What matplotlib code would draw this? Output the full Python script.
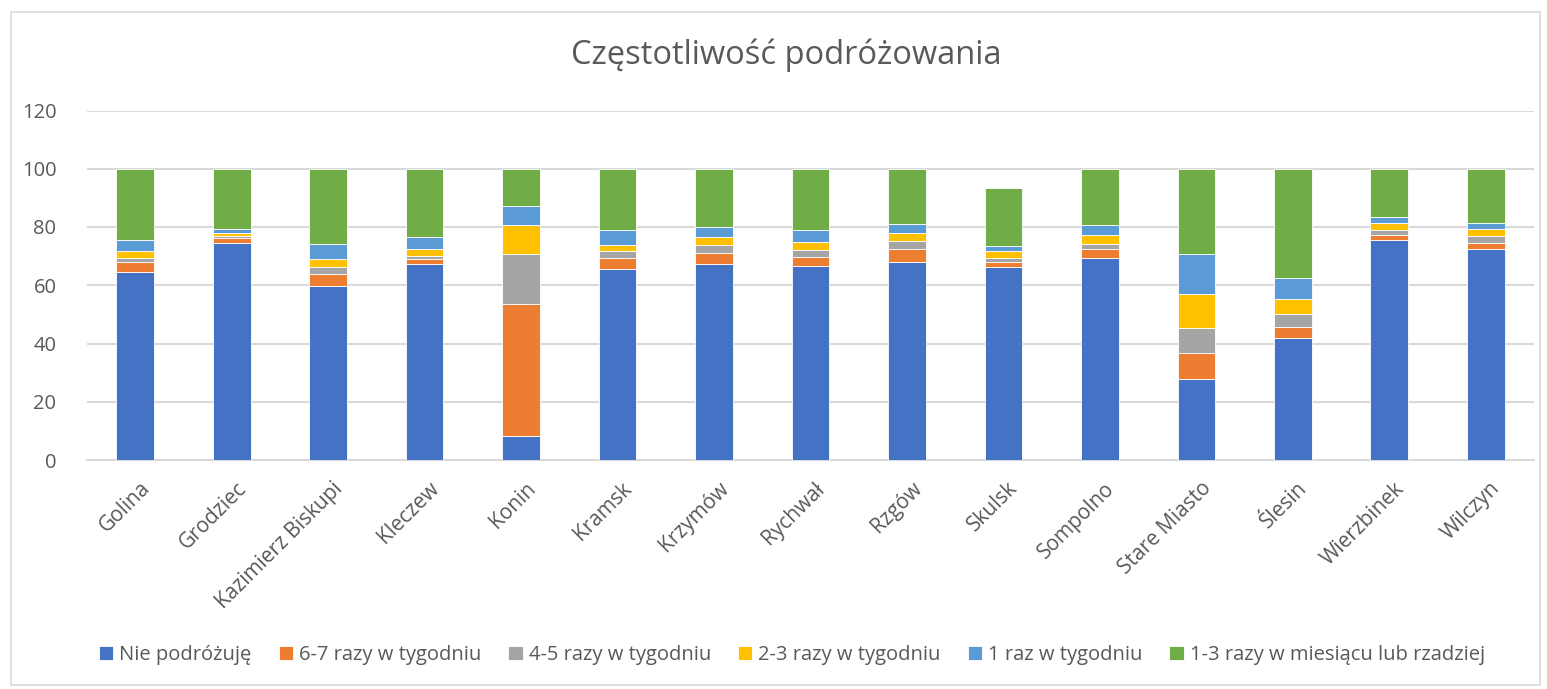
import matplotlib
matplotlib.use("Agg")
import matplotlib.pyplot as plt
import matplotlib.transforms as mtransforms
from matplotlib.patches import Rectangle
import numpy as np

plt.rcParams['font.family'] = ['Open Sans', 'DejaVu Sans']

categories = ["Golina", "Grodziec", "Kazimierz Biskupi", "Kleczew", "Konin", "Kramsk",
              "Krzymów", "Rychwał", "Rzgów", "Skulsk", "Sompolno", "Stare Miasto",
              "Ślesin", "Wierzbinek", "Wilczyn"]

nie_podrozuje = [64.6, 74.6, 59.8, 67.2, 8.2, 65.7, 67.2, 66.7, 68.1, 66.4, 69.5, 27.7, 42.0, 75.6, 72.5]
razy_6_7 = [3.5, 1.7, 4.2, 1.9, 45.5, 3.8, 4.0, 3.1, 4.2, 1.7, 3.0, 8.9, 3.8, 1.7, 2.1]
razy_4_5 = [1.4, 0.6, 2.2, 1.0, 17.1, 2.4, 2.6, 2.3, 3.0, 1.4, 1.8, 8.8, 4.3, 1.8, 2.4]
razy_2_3 = [2.1, 1.0, 2.8, 2.3, 9.9, 1.9, 2.6, 2.8, 2.5, 2.2, 3.0, 11.5, 5.3, 2.3, 2.2]
raz_1 = [3.9, 1.5, 5.1, 4.0, 6.6, 5.0, 3.5, 3.9, 3.1, 1.9, 3.5, 13.7, 7.0, 2.2, 2.3]
miesiac = [24.5, 20.6, 25.9, 23.6, 12.7, 21.2, 20.1, 21.2, 19.1, 19.8, 19.2, 29.4, 37.6, 16.4, 18.5]

series_names = ["Nie podróżuję", "6-7 razy w tygodniu", "4-5 razy w tygodniu",
                "2-3 razy w tygodniu", "1 raz w tygodniu", "1-3 razy w miesiącu lub rzadziej"]
series = [nie_podrozuje, razy_6_7, razy_4_5, razy_2_3, raz_1, miesiac]
colors = ["#4472C4", "#ED7D31", "#A5A5A5", "#FFC000", "#5B9BD5", "#70AD47"]

W, H = 1547, 689
fig = plt.figure(figsize=(W / 100, H / 100), dpi=100)
fig.patch.set_facecolor("white")

ax = fig.add_axes([87 / W, 1 - 460 / H, (1534 - 87) / W, (460 - 110.5) / H])

x = np.arange(len(categories))
bottom = np.zeros(len(categories))
handles = []
for name, vals, col in zip(series_names, series, colors):
    vals = np.array(vals)
    b = ax.bar(x, vals, width=0.39, bottom=bottom, color=col, label=name,
               edgecolor="#FFFFFF", linewidth=0.6, zorder=3)
    handles.append(b)
    bottom += vals

ax.set_xlim(-0.5, len(categories) - 0.5)
ax.set_ylim(0, 120)
ax.set_yticks(np.arange(0, 121, 20))
ax.yaxis.grid(True, color="#D9D9D9", linewidth=1.5, zorder=0)
ax.set_axisbelow(True)
for s in ["top", "right", "left"]:
    ax.spines[s].set_visible(False)
ax.spines["bottom"].set_color("#D9D9D9")
ax.spines["bottom"].set_linewidth(1.5)
ax.tick_params(axis="both", length=0, colors="#595959", labelsize=14.5)
ax.tick_params(axis="y", pad=22)
ax.set_xticks(x)
ax.set_xticklabels(categories, rotation=45, ha="right", rotation_mode="anchor",
                   color="#595959", fontsize=15)
offset = mtransforms.ScaledTranslation(0.04, -0.13, fig.dpi_scale_trans)
for lbl in ax.get_xticklabels():
    lbl.set_transform(lbl.get_transform() + offset)

fig.text(786 / W, 1 - 55 / H, "Częstotliwość podróżowania", ha="center", va="center",
         fontsize=23.5, color="#595959")

leg = fig.legend(handles=handles, labels=series_names, loc="center", ncol=6,
                 bbox_to_anchor=(792 / W, 1 - 655 / H), frameon=False, fontsize=14.5,
                 handlelength=0.7, handleheight=0.7, handletextpad=0.3,
                 columnspacing=1.35, labelcolor="#595959")

fig.patches.append(Rectangle((11 / W, 4 / H), (1540 - 11) / W, (685 - 12) / H,
                             transform=fig.transFigure, fill=False,
                             edgecolor="#D9D9D9", linewidth=1.2))

fig.savefig("out.png", dpi=100)
